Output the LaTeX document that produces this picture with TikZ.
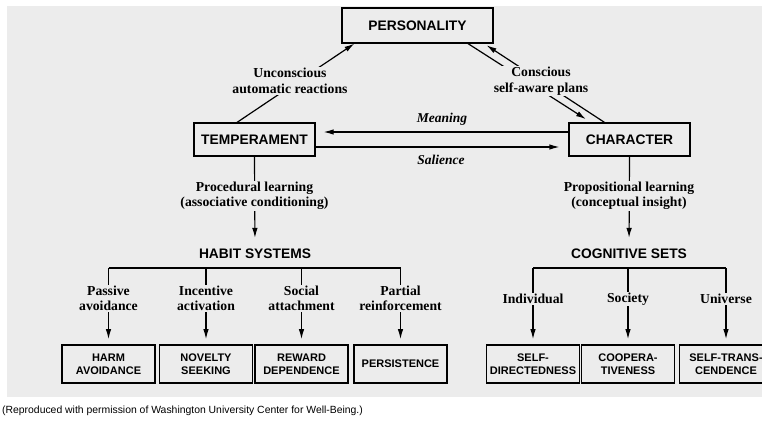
\documentclass[tikz,border=0pt]{standalone}
\usepackage{fontspec}
\setmainfont{Liberation Serif}
\setsansfont{Liberation Sans}
\newfontfamily\capfont{Liberation Sans}
\usetikzlibrary{arrows.meta,calc}
\definecolor{bg}{HTML}{ECECEC}
\tikzset{
 topbox/.style={draw, line width=1.2pt, font=\sffamily\bfseries\fontsize{13.8}{16}\selectfont, inner sep=0pt, minimum height=33pt},
 lowbox/.style={draw, line width=1.7pt, font=\sffamily\bfseries\fontsize{11}{13}\selectfont, align=center, inner sep=0pt, minimum width=93pt, minimum height=38pt},
 head/.style={font=\sffamily\bfseries\fontsize{13.8}{16}\selectfont, inner sep=0pt},
 lab/.style={font=\bfseries\fontsize{13.7}{15.5}\selectfont, align=center, fill=bg, inner sep=1pt},
 ilab/.style={font=\bfseries\itshape\fontsize{13.5}{15}\selectfont, inner sep=0pt},
 conn/.style={line width=1.2pt, -{Latex[length=10pt,width=5.5pt]}},
 plain/.style={line width=1.2pt},
}
\begin{document}
\begin{tikzpicture}[x=1pt,y=-1pt]
\useasboundingbox (0,0) rectangle (762,424);
\clip (0,0) rectangle (762,424);
\fill[bg] (7,6) rectangle (762,397);

% main boxes
\node[topbox, minimum width=151pt, minimum height=35pt] (pers) at (417.5,25.5) {PERSONALITY};
\node[topbox, minimum width=121pt] (temp) at (254.5,139.5) {TEMPERAMENT};
\node[topbox, minimum width=121pt] (char) at (629.5,139.5) {CHARACTER};

% upper connectors
\draw[conn] ($(temp.north)+(-17.5,0)$) -- ($(pers.south west)+(13,0)$);
\node[lab] (unc) at (290,81) {Unconscious\\automatic reactions};
\draw[conn, shorten >=6pt] ($(pers.south)+(50.5,0)$) -- ($(char.north)+(-38.5,0)$);
\draw[conn, shorten >=3pt] ($(char.north)+(-25,0)$) -- ($(pers.south)+(66.5,0)$);
\node[lab] (con) at (541,81) {Conscious\\self-aware plans};

\draw[conn, shorten >=8pt] ($(char.west)+(0,-7.5)$) -- ($(temp.east)+(0,-7.5)$);
\node[ilab] (mean) at (442,119) {Meaning};
\draw[conn, shorten >=9pt] ($(temp.east)+(0,7.5)$) -- ($(char.west)+(0,7.5)$);
\node[ilab] (sal) at (441,159.5) {Salience};

% heads
\node[head] (habit) at (255,253.5) {HABIT SYSTEMS};
\node[head] (cog) at (629,253.5) {COGNITIVE SETS};

\draw[conn, shorten >=10.5pt] (temp.south) -- (habit.north);
\node[lab] (proc) at (254.5,196) {Procedural learning\\(associative conditioning)};
\draw[conn, shorten >=10.5pt] (char.south) -- (cog.north);
\node[lab] (prop) at (629,196) {Propositional learning\\(conceptual insight)};

% lower boxes
\node[lowbox] (ha) at (108.5,364) {HARM\\AVOIDANCE};
\node[lowbox] (ns) at (206,364) {NOVELTY\\SEEKING};
\node[lowbox] (rd) at (301.5,364) {REWARD\\DEPENDENCE};
\node[lowbox] (pe) at (400.5,364) {PERSISTENCE};
\node[lowbox] (sd) at (533,364) {SELF-\\DIRECTEDNESS};
\node[lowbox] (co) at (628,364) {COOPERA-\\TIVENESS};
\node[lowbox] (st) at (726,364) {SELF-TRANS-\\CENDENCE};

\coordinate (hy) at (0,268);
\draw[plain] (ha.north |- hy) -- (pe.north |- hy);
\draw[plain] (sd.north |- hy) -- (st.north |- hy);

\foreach \b/\t in {ha/{Passive\\avoidance}, ns/{Incentive\\activation}, rd/{Social\\attachment}, pe/{Partial\\reinforcement}}{
  \draw[conn, shorten >=5pt] (\b.north |- hy) -- (\b.north);
  \node[lab] (l\b) at ($(\b.north |- hy)+(0,30.5)$) {\t};
}
\foreach \b/\t in {sd/Individual, co/Society, st/Universe}{
  \draw[conn, shorten >=5pt] (\b.north |- hy) -- (\b.north);
  \node[lab] (l\b) at ($(\b.north |- hy)+(0,31)$) {\t};
}

\node[anchor=west, font=\capfont\fontsize{10.4}{12}\selectfont, inner sep=0pt] (cap) at (2,411) {(Reproduced with permission of Washington University Center for Well-Being.)};
\end{tikzpicture}
\end{document}
